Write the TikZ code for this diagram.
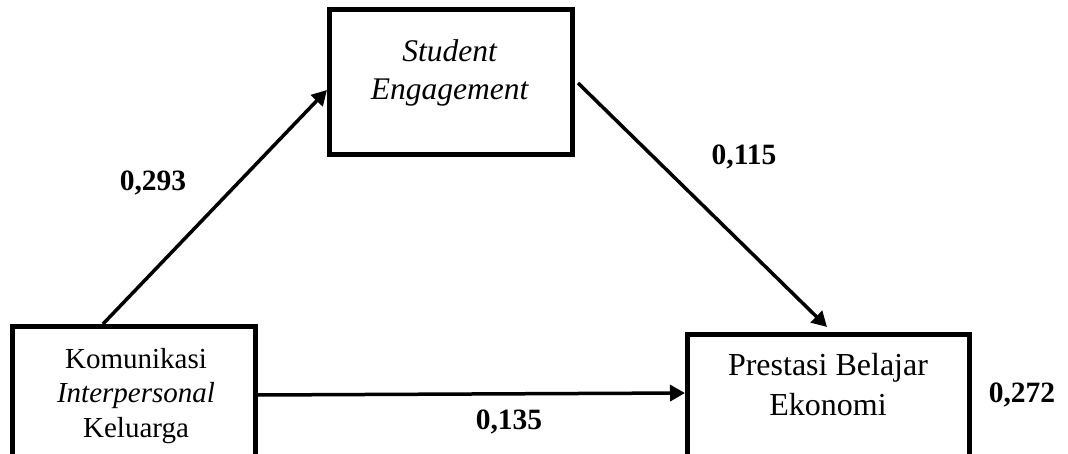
\documentclass[tikz,border=0pt]{standalone}
\usepackage{fontspec}
\setmainfont{Liberation Serif}
\usetikzlibrary{arrows.meta}
\tikzset{
  box/.style={draw=black, line width=5pt, fill=white, rectangle, inner sep=0pt},
  boxtext/.style={align=center, inner sep=0pt, anchor=base},
  coef/.style={inner sep=0pt, font=\fontsize{29.5}{32}\selectfont\bfseries},
  path arrow/.style={draw=black, line width=3.5pt, -{Triangle[length=15pt,width=16pt]}}
}
\begin{document}
\begin{tikzpicture}[x=1pt,y=-1pt]
\useasboundingbox (0,0) rectangle (1068,454);
\clip (0,0) rectangle (1068,454);
% boxes
\node[box, minimum width=243pt, minimum height=145pt] (se) at (451,82) {};
\node[box, minimum width=243pt, minimum height=160pt] (kom) at (134,406.5) {};
\node[box, minimum width=282pt, minimum height=150pt] (pbe) at (828.5,409.5) {};
% box texts (anchor = baseline of the last line)
\node[boxtext, font=\fontsize{31.5}{38}\selectfont] (setext) at (450,100) {\textit{Student}\\\textit{Engagement}};
\node[boxtext, font=\fontsize{29}{34.5}\selectfont] (komtext) at (136,437) {Komunikasi\\\textit{Interpersonal}\\Keluarga};
\node[boxtext, font=\fontsize{32}{40}\selectfont] (pbetext) at (828,415) {Prestasi Belajar\\Ekonomi};
% connectors
\draw[path arrow] ([xshift=93pt]kom.north west) -- ([yshift=-8pt]se.west);
\draw[path arrow] ([xshift=3pt,yshift=-1pt]se.east) -- ([xshift=142pt,yshift=5pt]pbe.north west);
\draw[path arrow] ([yshift=11.5pt]kom.east) -- ([yshift=16.5pt]pbe.west);
% coefficients
\node[coef] (c1) at (153,183) {0,293};
\node[coef] (c2) at (744,157) {0,115};
\node[coef] (c3) at (509,422) {0,135};
\node[coef] (c4) at (1022,395) {0,272};
\end{tikzpicture}
\end{document}
